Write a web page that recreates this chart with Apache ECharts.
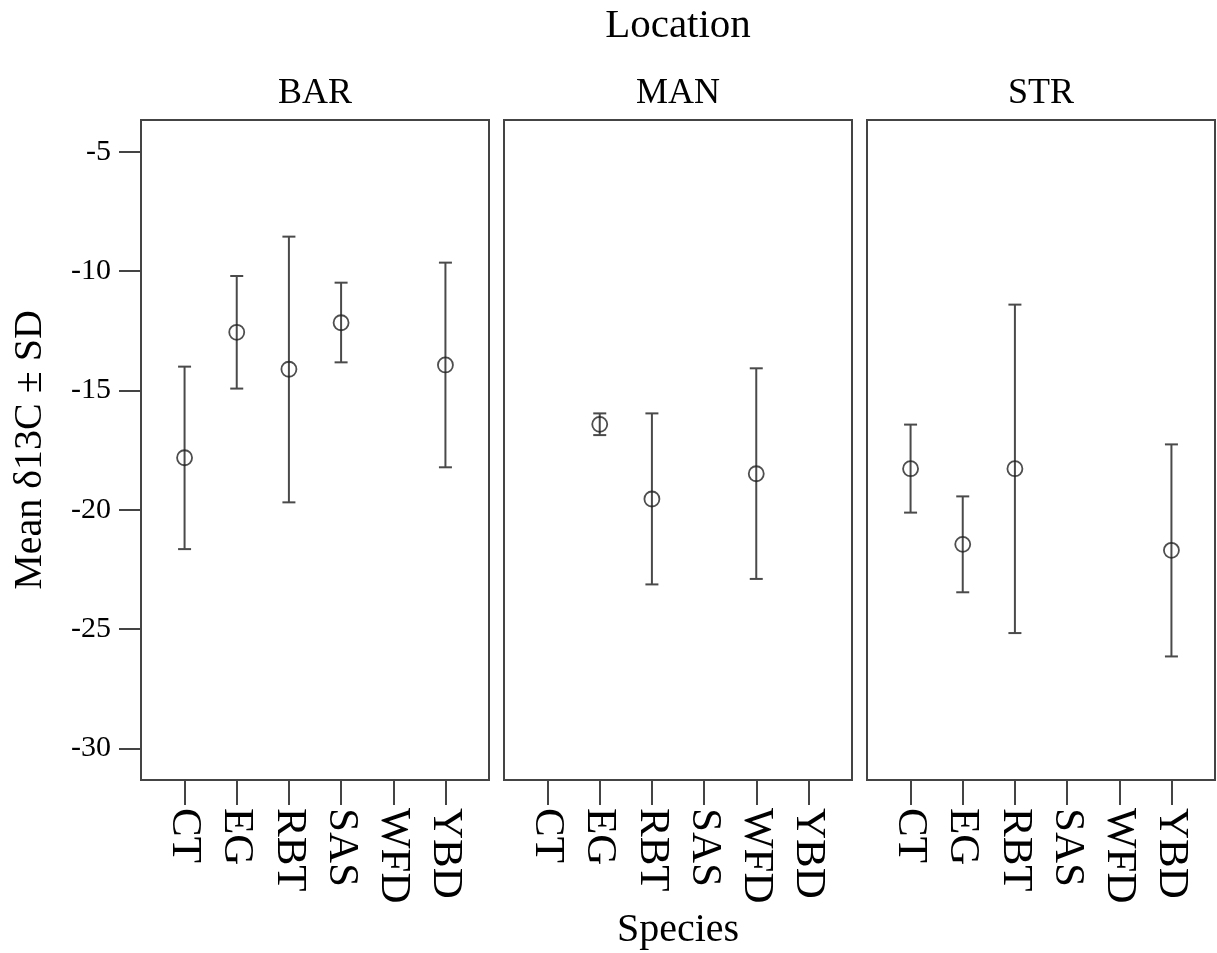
<!DOCTYPE html>
<html>
<head>
<meta charset="utf-8">
<script src="https://cdn.jsdelivr.net/npm/echarts@6/dist/echarts.min.js"></script>
<style>
  html, body { margin: 0; padding: 0; background: #fff; }
  #main { width: 1217px; height: 953px; }
</style>
</head>
<body>
<div id="main"></div>
<script>
var categories = ['CT', 'EG', 'RBT', 'SAS', 'WFD', 'YBD'];
var locations = ['BAR', 'MAN', 'STR'];
var yTicks = [-30, -25, -20, -15, -10, -5];

// mean and mean +/- SD (null = no data)
var barMean  = [-17.82, -12.56, -14.11, -12.16, null, -13.93];
var barUpper = [-14.00, -10.20,  -8.55, -10.48, null,  -9.64];
var barLower = [-21.65, -14.92, -19.69, -13.82, null, -18.22];

var manMean  = [null, -16.42, -19.55, null, -18.49, null];
var manUpper = [null, -15.96, -15.96, null, -14.07, null];
var manLower = [null, -16.87, -23.13, null, -22.90, null];

var strMean  = [-18.28, -21.45, -18.28, null, null, -21.70];
var strUpper = [-16.43, -19.44, -11.40, null, null, -17.26];
var strLower = [-20.12, -23.46, -25.17, null, null, -26.15];

var means = [barMean, manMean, strMean];
var uppers = [barUpper, manUpper, strUpper];
var lowers = [barLower, manLower, strLower];

var FONT = '"Liberation Serif", "Times New Roman", serif';
var lineCol = '#444';
var panelLeft = [141, 504, 867];
var panelW = 348, panelTop = 120, panelH = 660;

var chart = echarts.init(document.getElementById('main'));

var grids = [], xAxes = [], yAxes = [], series = [], graphics = [];

locations.forEach(function (loc, i) {
    grids.push({
        left: panelLeft[i], top: panelTop, width: panelW, height: panelH,
        outerBoundsMode: 'none', containLabel: false,
        show: true, borderColor: lineCol, borderWidth: 2, backgroundColor: '#fff'
    });
    xAxes.push({
        type: 'value', gridIndex: i, min: -0.835, max: 5.835,
        splitLine: { show: false },
        axisLine: { show: false, onZero: false },
        axisTick: { show: true, customValues: [0, 1, 2, 3, 4, 5], length: 25, lineStyle: { color: lineCol, width: 2 } },
        axisLabel: {
            customValues: [0, 1, 2, 3, 4, 5], rotate: -90, margin: 28,
            fontFamily: FONT, fontSize: 43, color: '#000',
            formatter: function (v) { return categories[Math.round(v)]; }
        }
    });
    yAxes.push({
        type: 'value', gridIndex: i, min: -31.33, max: -3.66,
        show: i === 0,
        splitLine: { show: false },
        axisLine: { show: false, onZero: false },
        axisTick: { show: true, customValues: yTicks, length: 22, lineStyle: { color: lineCol, width: 2 } },
        axisLabel: { customValues: yTicks, margin: 30, fontFamily: FONT, fontSize: 30, color: '#000' }
    });

    var barData = [], pointData = [];
    categories.forEach(function (c, k) {
        if (means[i][k] === null) return;
        barData.push([k, lowers[i][k], uppers[i][k]]);
        pointData.push([k, means[i][k]]);
    });

    series.push({
        type: 'custom', xAxisIndex: i, yAxisIndex: i, z: 2,
        data: barData,
        renderItem: function (params, api) {
            var x = api.value(0);
            var lo = api.coord([x, api.value(1)]);
            var hi = api.coord([x, api.value(2)]);
            var st = { stroke: '#4a4a4a', lineWidth: 2 };
            var w = 6.5;
            return {
                type: 'group',
                children: [
                    { type: 'line', shape: { x1: lo[0], y1: lo[1], x2: hi[0], y2: hi[1] }, style: st },
                    { type: 'line', shape: { x1: hi[0] - w, y1: hi[1], x2: hi[0] + w, y2: hi[1] }, style: st },
                    { type: 'line', shape: { x1: lo[0] - w, y1: lo[1], x2: lo[0] + w, y2: lo[1] }, style: st }
                ]
            };
        }
    });
    series.push({
        type: 'scatter', xAxisIndex: i, yAxisIndex: i, z: 3,
        data: pointData, symbol: 'circle', symbolSize: 15,
        itemStyle: { color: 'rgba(0,0,0,0)', borderColor: '#222', borderWidth: 1.8 }
    });

    graphics.push({
        type: 'text', x: panelLeft[i] + panelW / 2, y: 94,
        style: { text: loc, font: '36px ' + FONT, fill: '#000', align: 'center', verticalAlign: 'middle' }
    });
});

// overall titles
graphics.push({
    type: 'text', x: 678, y: 26,
    style: { text: 'Location', font: '41px ' + FONT, fill: '#000', align: 'center', verticalAlign: 'middle' }
});
graphics.push({
    type: 'text', x: 678, y: 930,
    style: { text: 'Species', font: '40px ' + FONT, fill: '#000', align: 'center', verticalAlign: 'middle' }
});
graphics.push({
    type: 'text', x: 30, y: panelTop + panelH / 2, rotation: Math.PI / 2,
    style: { text: 'Mean δ13C ± SD', font: '40px ' + FONT, fill: '#000', align: 'center', verticalAlign: 'middle' }
});

chart.setOption({
    animation: false,
    backgroundColor: '#fff',
    grid: grids,
    xAxis: xAxes,
    yAxis: yAxes,
    series: series,
    graphic: graphics
});
</script>
</body>
</html>
